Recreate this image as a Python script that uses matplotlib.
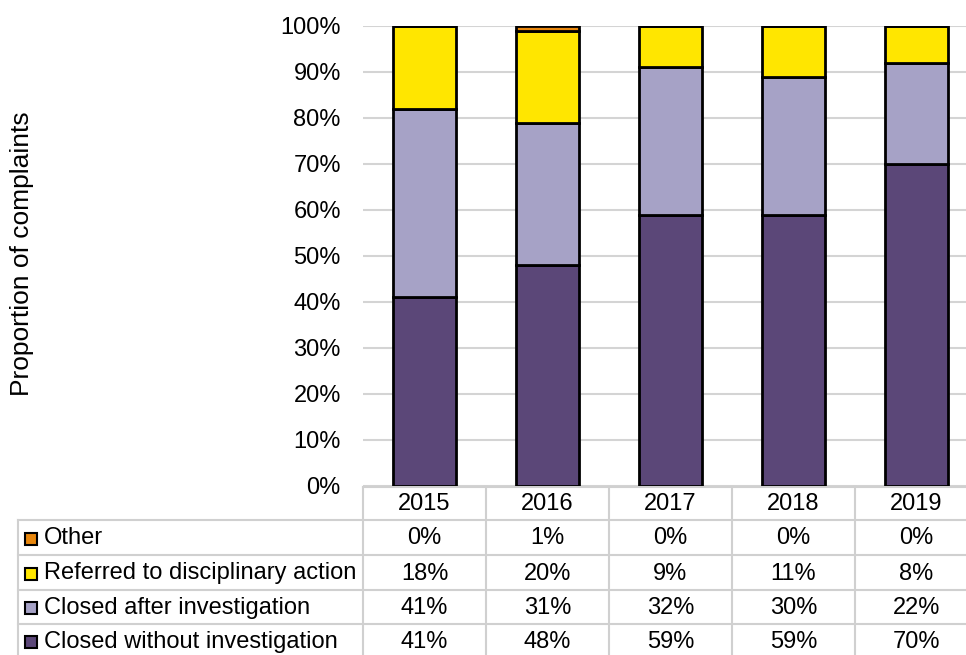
import matplotlib
matplotlib.use("Agg")
import matplotlib.pyplot as plt
import matplotlib.transforms as mtransforms
from matplotlib.patches import Rectangle
import numpy as np

plt.rcParams['font.family'] = ['Liberation Sans', 'DejaVu Sans']

years = ["2015", "2016", "2017", "2018", "2019"]
series = ["Closed without investigation", "Closed after investigation",
          "Referred to disciplinary action", "Other"]
closed_without = [41, 48, 59, 59, 70]
closed_after = [41, 31, 32, 30, 22]
referred = [18, 20, 9, 11, 8]
other = [0, 1, 0, 0, 0]
colors = ["#5b4778", "#a6a2c6", "#ffe600", "#e8870e"]

values = [closed_without, closed_after, referred, other]

W, H = 966, 655
FS = 17
fig = plt.figure(figsize=(W / 100, H / 100), dpi=100)

# axes in pixel terms (right edge runs past the figure, like the cropped original)
left, right, top, bottom = 363, 978, 26, 486
ax = fig.add_axes([left / W, 1 - bottom / H, (right - left) / W, (bottom - top) / H])

x = np.arange(len(years))
base = np.zeros(len(years))
for vals, c in zip(values, colors):
    ax.bar(x, vals, 0.51, bottom=base, color=c, edgecolor="black", linewidth=2, zorder=3)
    base += np.array(vals)

ax.set_xlim(-0.5, len(years) - 0.5)
ax.set_ylim(0, 100)
ax.set_yticks(range(0, 101, 10))
ax.set_yticklabels([f"{v}%" for v in range(0, 101, 10)], fontsize=FS)
ax.tick_params(axis="y", length=0, pad=16)
ax.set_xticks([])
for s in ax.spines.values():
    s.set_visible(False)
ax.yaxis.grid(True, color="#d4d4d4", linewidth=1.5, zorder=0)
ax.set_axisbelow(True)

fig.text(22 / W, 1 - 254 / H, "Proportion of complaints", rotation=90,
         ha="center", va="center", fontsize=19)

# data table below the chart
def fy(py):
    return 1 - py / H

tr = mtransforms.blended_transform_factory(ax.transData, fig.transFigure)
grid_c = "#d0d0d0"
row_edges = [487, 520, 555, 590, 624, 658]
col_edges = [i - 0.5 for i in range(len(years) + 1)]
x_lab = 18 / W

# vertical lines
for ce in col_edges:
    ax.plot([ce, ce], [fy(row_edges[0]), fy(row_edges[-1])], transform=tr,
            color=grid_c, lw=1.5, clip_on=False)
fig.add_artist(plt.Line2D([x_lab, x_lab], [fy(row_edges[1]), fy(row_edges[-1])],
                          color=grid_c, lw=1.5))
# horizontal lines
ax.plot([col_edges[0], col_edges[-1]], [fy(row_edges[0])] * 2, transform=tr,
        color=grid_c, lw=1.5, clip_on=False)
for re_ in row_edges[1:-1]:
    fig.add_artist(plt.Line2D([x_lab, right / W], [fy(re_)] * 2, color=grid_c, lw=1.5))

# header
for i, yr in enumerate(years):
    ax.text(i, fy((row_edges[0] + row_edges[1]) / 2 + 1), yr, transform=tr,
            ha="center", va="center", fontsize=FS)

# rows (top row = last series)
for r, k in enumerate(range(len(series) - 1, -1, -1)):
    yc = fy((row_edges[r + 1] + row_edges[r + 2]) / 2 + 1)
    fig.add_artist(Rectangle((25 / W, yc - 6 / H), 12 / W, 12 / H,
                             facecolor=colors[k], edgecolor="black", lw=1.5,
                             transform=fig.transFigure))
    fig.text(44 / W, yc, series[k], ha="left", va="center", fontsize=FS)
    for i in range(len(years)):
        ax.text(i, yc, f"{values[k][i]}%", transform=tr,
                ha="center", va="center", fontsize=FS)

fig.savefig("out.png", dpi=100)
